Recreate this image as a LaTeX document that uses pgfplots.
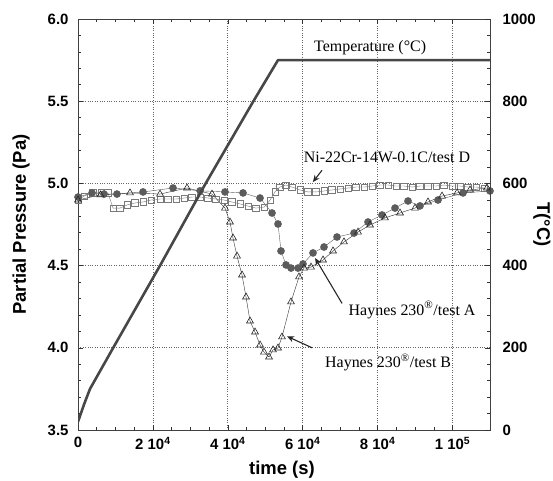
\documentclass[border=0pt]{standalone}
\usepackage{fontspec}
\setmainfont{Liberation Serif}
\setsansfont{Liberation Sans}
\usepackage{pgfplots}
\pgfplotsset{compat=1.18}
\usetikzlibrary{arrows.meta}

\definecolor{tline}{HTML}{474747}
\definecolor{circ}{HTML}{5C5C5C}
\definecolor{sq}{HTML}{7A7A7A}

\newcommand{\tickfont}{\fontsize{15}{17}\selectfont\sffamily\bfseries}
\newcommand{\labfont}{\fontsize{18.5}{21}\selectfont\sffamily\bfseries}
\newcommand{\notefont}{\fontsize{16}{18}\selectfont\rmfamily}

\pgfplotsset{
  common/.style={
    width=412bp, height=411bp, scale only axis,
    at={(0,0)}, anchor=south west,
    xmin=0, xmax=110000,
    tick align=inside,
    major tick length=5bp, minor tick length=3bp,
    tick style={line width=0.6pt, black!80},
    axis line style={line width=0.8pt, black!75},
    ticklabel style={font=\tickfont},
    /pgf/number format/assume math mode=true,
    /pgf/number format/1000 sep={},
  }
}

\begin{document}
\begin{tikzpicture}
\path[use as bounding box] (-78bp,-51bp) rectangle (475bp,430bp);

% pressure axis (left) with the three alloys
\begin{axis}[common,
  ymin=3.5, ymax=6.0,
  clip=false,
  scaled x ticks=false,
  xtick={0,20000,40000,60000,80000,100000},
  xticklabels={0, 2 10\textsuperscript{4}, 4 10\textsuperscript{4}, 6 10\textsuperscript{4}, 8 10\textsuperscript{4}, 1 10\textsuperscript{5}},
  minor x tick num=3,
  xtick pos=both, xticklabel pos=bottom,
  ytick={3.5,4.0,4.5,5.0,5.5,6.0},
  yticklabel style={xshift=-6bp, /pgf/number format/fixed,
    /pgf/number format/fixed zerofill, /pgf/number format/precision=1},
  minor y tick num=4,
  ytick pos=left,
  grid=major,
  grid style={dotted, line width=0.8pt, black!60},
  xticklabel style={yshift=-4bp},
  xlabel={time (s)},
  ylabel={Partial Pressure (Pa)},
  xlabel style={font=\labfont, at={(axis description cs:0.495,-0.097)}, anchor=center},
  ylabel style={font=\labfont, at={(axis description cs:-0.138,0.5)}, anchor=center},
]

% Ni-22Cr-14W-0.1C / test D
\addplot[sq, line width=0.4pt, mark=square, mark size=3.2pt,
  mark options={fill=white, draw=sq, line width=0.6pt}] coordinates {
  (0,4.899) (1600,4.923) (4000,4.942) (6140,4.942) (8000,4.942)
  (9350,4.850) (11200,4.850) (13100,4.869) (15200,4.881) (17360,4.887)
  (19500,4.899) (21900,4.905) (24000,4.905) (26200,4.905) (28300,4.911)
  (30400,4.917) (32600,4.917) (34700,4.911) (36800,4.905) (39000,4.899)
  (41100,4.887) (43300,4.875) (45400,4.862) (47500,4.850) (49700,4.856)
  (51300,4.899) (52600,4.948) (53900,4.978) (55500,4.990) (57100,4.978)
  (59300,4.960) (61400,4.948) (63500,4.948) (65700,4.954) (67800,4.960)
  (70000,4.966) (72100,4.972) (74200,4.978) (76400,4.978) (78500,4.984)
  (80600,4.990) (82800,4.990) (84900,4.984) (87000,4.984) (89200,4.978)
  (91300,4.984) (93400,4.984) (95600,4.984) (97700,4.990) (99900,4.984)
  (102000,4.984) (104100,4.978) (106300,4.978) (108400,4.972)
};

% Haynes 230 / test A
\addplot[circ, line width=0.4pt, mark=*, mark size=3.6pt,
  mark options={fill=circ, draw=circ}] coordinates {
  (0,4.917) (3740,4.942) (6940,4.935) (10400,4.935) (17360,4.948)
  (25370,4.972) (32600,4.955) (39250,4.948) (44060,4.942) (48600,4.911)
  (51800,4.820) (53400,4.753) (54200,4.589) (55540,4.504) (56870,4.485)
  (58740,4.485) (60075,4.510) (62745,4.577) (65680,4.613) (69150,4.674)
  (73700,4.698) (77430,4.765) (81170,4.808) (84640,4.850) (88110,4.893)
  (91310,4.863) (96120,4.899) (102800,4.942) (110000,4.954)
};

% Haynes 230 / test B
\addplot[black!80, line width=0.4pt, mark=triangle, mark size=4pt,
  mark options={fill=white, draw=black!85, line width=0.6pt}] coordinates {
  (0,4.899) (6000,4.930) (13880,4.942) (21900,4.935) (29100,4.972)
  (35780,4.935) (39250,4.850) (40580,4.765) (41380,4.668) (42450,4.558)
  (43790,4.443) (44860,4.309) (45920,4.163) (47260,4.096) (48600,4.017)
  (49660,3.974) (51000,3.944) (52070,3.987) (53400,3.999) (54470,4.066)
  (56870,4.279) (59000,4.431) (60340,4.485) (62210,4.491) (65420,4.534)
  (68090,4.589) (71020,4.644) (74760,4.704) (77960,4.747) (81970,4.790)
  (85970,4.820) (89980,4.850) (93450,4.887) (97190,4.923) (101200,4.942)
  (104660,4.960) (109200,4.972)
};

% annotations
\node[font=\notefont] at (axis cs:82500,5.16) {Ni-22Cr-14W-0.1C/test D};
\draw[-{Stealth[length=7bp,width=6bp]}, line width=1.1pt, black!85]
  (axis cs:65150,5.08) -- (axis cs:62700,5.008);
\node[font=\notefont] at (axis cs:89200,4.23) {Haynes 230\textsuperscript{®}/test A};
\draw[-{Stealth[length=7bp,width=6bp]}, line width=1.1pt, black!85]
  (axis cs:70500,4.27) -- (axis cs:63300,4.546);
\node[font=\notefont] at (axis cs:82800,3.91) {Haynes 230\textsuperscript{®}/test B};
\draw[-{Stealth[length=7bp,width=6bp]}, line width=1.1pt, black!85]
  (axis cs:62500,4.00) -- (axis cs:55800,4.07);
\end{axis}

% temperature axis (right)
\begin{axis}[common,
  ymin=0, ymax=1000,
  axis x line=none,
  axis y line*=right,
  tick align=inside,
  ytick={0,200,400,600,800,1000},
  minor y tick num=4,
  yticklabel style={xshift=9bp},
  ylabel={T(°C)},
  ylabel style={font=\labfont, at={(axis description cs:1.126,0.5)}, anchor=center, rotate=180},
]
\addplot[tline, line width=2.6pt, line join=round] coordinates {
  (0,20) (1600,62) (3200,100) (9400,200) (21900,400) (33900,597)
  (46700,798) (53400,900) (110000,900)
};
\node[font=\notefont] at (axis cs:78000,930) {Temperature (°C)};
\end{axis}
\end{tikzpicture}
\end{document}
